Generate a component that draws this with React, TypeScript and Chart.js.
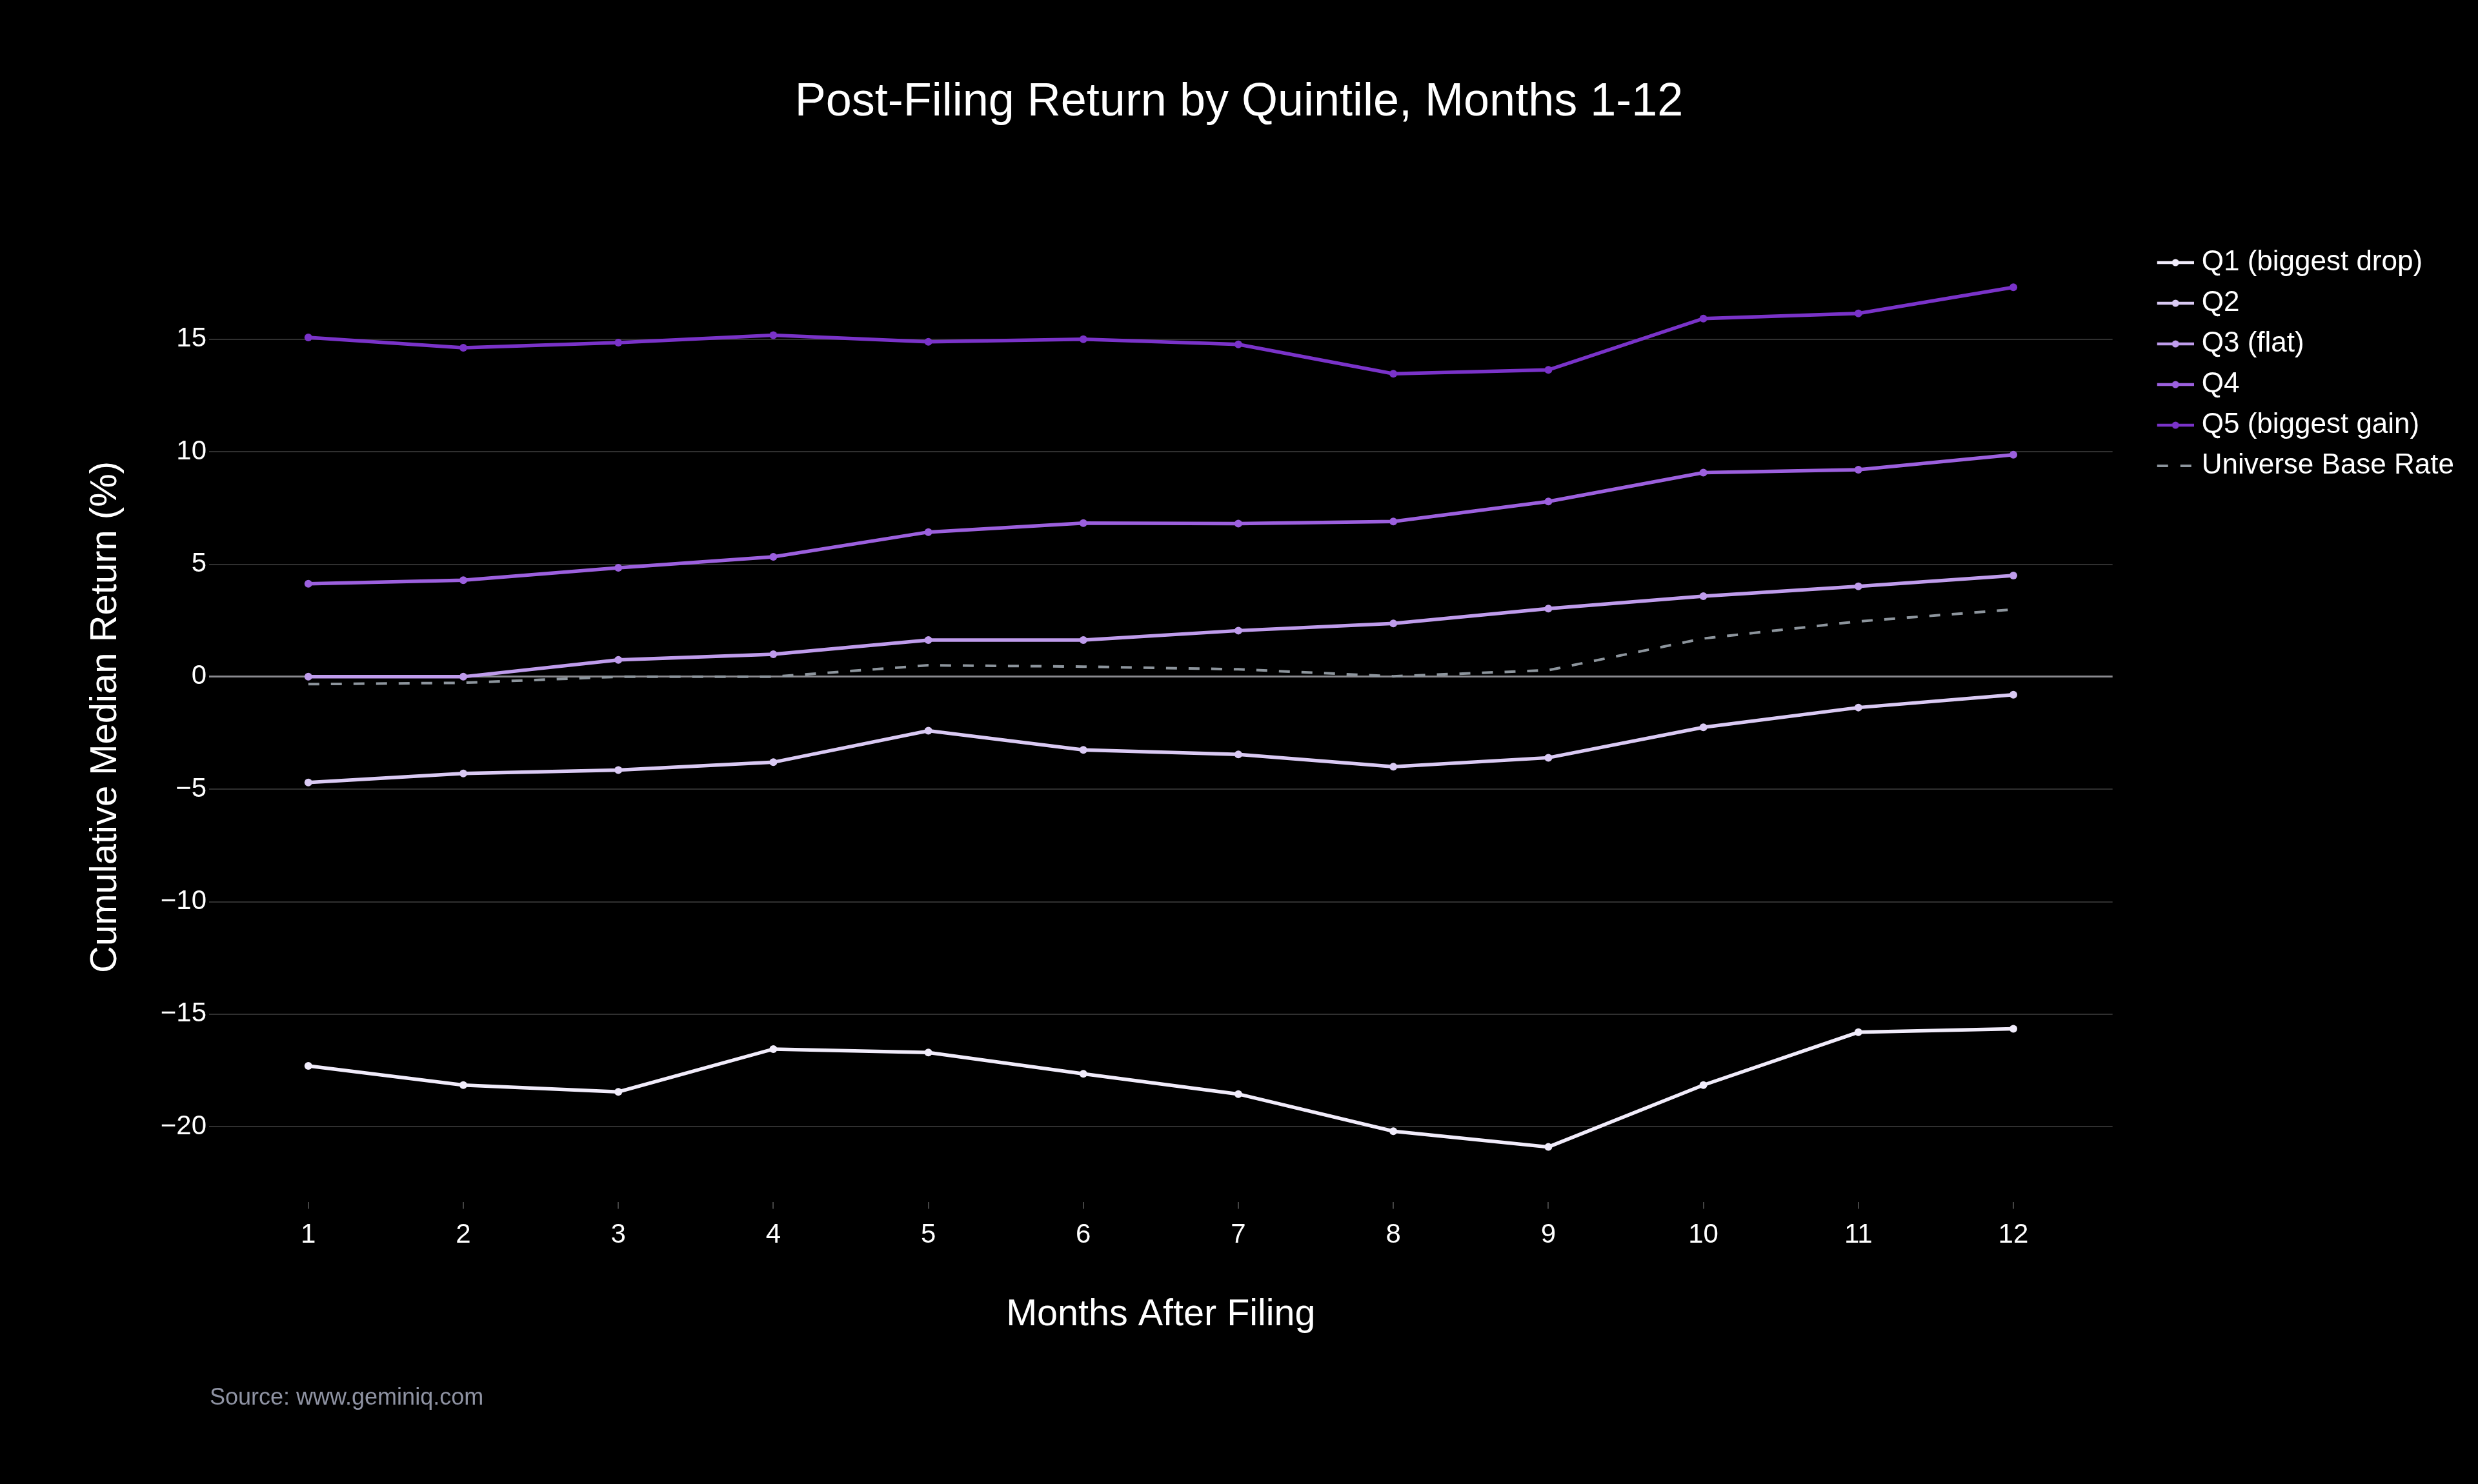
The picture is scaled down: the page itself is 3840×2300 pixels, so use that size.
import React, { useEffect, useRef } from "react";
import { Chart, registerables } from "chart.js";

Chart.register(...registerables);

const months = [1, 2, 3, 4, 5, 6, 7, 8, 9, 10, 11, 12];
const yTickValues = [-20, -15, -10, -5, 0, 5, 10, 15];

const q1 = [-17.3, -18.15, -18.45, -16.55, -16.7, -17.65, -18.55, -20.2, -20.9, -18.15, -15.8, -15.65];
const q2 = [-4.7, -4.3, -4.15, -3.8, -2.4, -3.25, -3.45, -4.0, -3.6, -2.25, -1.37, -0.8];
const q3 = [0.0, 0.0, 0.75, 1.0, 1.63, 1.63, 2.05, 2.37, 3.03, 3.58, 4.02, 4.5];
const q4 = [4.13, 4.29, 4.84, 5.33, 6.43, 6.83, 6.81, 6.9, 7.79, 9.07, 9.2, 9.87];
const q5 = [15.08, 14.62, 14.85, 15.18, 14.89, 15.0, 14.77, 13.47, 13.64, 15.92, 16.15, 17.31];
const baseRate = [-0.33, -0.27, 0.0, 0.0, 0.51, 0.45, 0.33, 0.02, 0.29, 1.7, 2.46, 2.99];

const seriesLabels = ["Q1 (biggest drop)", "Q2", "Q3 (flat)", "Q4", "Q5 (biggest gain)", "Universe Base Rate"];
const seriesColors = ["#f1ecfb", "#dacaf4", "#bf9cec", "#9c60de", "#7a33c9", "#8d959d"];

const FONT = '"Liberation Sans", Arial, Helvetica, sans-serif';

function makeIcon(color: string, dashed: boolean): HTMLCanvasElement {
  const c = document.createElement("canvas");
  c.width = 117;
  c.height = 14;
  const g = c.getContext("2d")!;
  g.strokeStyle = color;
  g.fillStyle = color;
  if (dashed) {
    g.lineWidth = 4;
    g.beginPath();
    g.moveTo(60, 7);
    g.lineTo(77, 7);
    g.moveTo(96, 7);
    g.lineTo(113, 7);
    g.stroke();
  } else {
    g.lineWidth = 4.5;
    g.beginPath();
    g.moveTo(60, 7);
    g.lineTo(117, 7);
    g.stroke();
    g.beginPath();
    g.arc(88.5, 7, 5.5, 0, Math.PI * 2);
    g.fill();
  }
  return c;
}

export default function App() {
  const ref = useRef<HTMLCanvasElement | null>(null);

  useEffect(() => {
    if (!ref.current) return;
    const series = [q1, q2, q3, q4, q5, baseRate];
    const icons = seriesColors.map((c, i) => makeIcon(c, i === 5));

    const datasets = series.map((arr, i) => {
      const dashed = i === 5;
      return {
        label: seriesLabels[i],
        data: months.map((m, j) => ({ x: m, y: arr[j] })),
        borderColor: seriesColors[i],
        backgroundColor: seriesColors[i],
        borderWidth: dashed ? 4 : 5.5,
        borderDash: dashed ? [17, 18] : [],
        pointRadius: dashed ? 0 : 6,
        pointBorderWidth: 0,
        pointBackgroundColor: seriesColors[i],
        tension: 0,
        fill: false,
      };
    });

    const sourcePlugin = {
      id: "sourceNote",
      afterDraw(chart: any) {
        const ctx = chart.ctx;
        ctx.save();
        ctx.font = `36px ${FONT}`;
        ctx.fillStyle = "#8f93a3";
        ctx.textBaseline = "middle";
        ctx.textAlign = "left";
        ctx.fillText("Source: www.geminiq.com", 325, 2167);
        ctx.restore();
      },
    };

    const chart = new Chart(ref.current, {
      type: "line",
      data: { datasets: datasets as any },
      plugins: [sourcePlugin],
      options: {
        responsive: false,
        animation: false,
        devicePixelRatio: 1,
        layout: { padding: { top: 0, left: 27, right: 27, bottom: 227.8 } },
        plugins: {
          tooltip: { enabled: false },
          title: {
            display: true,
            text: "Post-Filing Return by Quintile, Months 1-12",
            color: "#ffffff",
            font: { family: FONT, size: 72, weight: "normal", lineHeight: 1.2 },
            padding: { top: 116, bottom: 157.1 },
          },
          legend: {
            display: true,
            position: "right",
            align: "start",
            fullSize: false,
            title: {
              display: true,
              text: "",
              padding: 0,
              font: { family: FONT, size: 6.5, lineHeight: 1 },
            },
            labels: {
              color: "#ffffff",
              font: { family: FONT, size: 44 },
              usePointStyle: true,
              pointStyleWidth: 97,
              padding: 19,
              generateLabels: (ch: any) =>
                ch.data.datasets.map((ds: any, i: number) => ({
                  text: ds.label,
                  pointStyle: icons[i],
                  fillStyle: "rgba(0,0,0,0)",
                  strokeStyle: "rgba(0,0,0,0)",
                  lineWidth: 0,
                  hidden: false,
                  datasetIndex: i,
                  fontColor: "#ffffff",
                })),
            },
          },
        },
        scales: {
          x: {
            type: "linear",
            min: 0.36,
            max: 12.64,
            afterBuildTicks: (axis: any) => {
              axis.ticks = months.map((v) => ({ value: v }));
            },
            grid: {
              drawOnChartArea: false,
              drawTicks: true,
              tickLength: 10,
              color: "#444444",
              lineWidth: 2,
            },
            border: { display: false },
            ticks: {
              color: "#ffffff",
              font: { family: FONT, size: 42 },
              padding: 16,
              maxRotation: 0,
              autoSkip: false,
              callback: (v: any) => String(v),
            },
            title: {
              display: true,
              text: "Months After Filing",
              color: "#ffffff",
              font: { family: FONT, size: 57.5, lineHeight: 1.2 },
              padding: { top: 47.4, bottom: 0 },
            },
          },
          y: {
            type: "linear",
            min: -23.36,
            max: 19.77,
            afterBuildTicks: (axis: any) => {
              axis.ticks = yTickValues.map((v) => ({ value: v }));
            },
            grid: {
              drawTicks: false,
              color: (c: any) => (c.tick && c.tick.value === 0 ? "#8a8a8f" : "#303030"),
              lineWidth: (c: any) => (c.tick && c.tick.value === 0 ? 3 : 2),
            },
            border: { display: false },
            ticks: {
              color: "#ffffff",
              font: { family: FONT, size: 42 },
              padding: 4,
              callback: (v: any) => String(v).replace("-", "\u2212"),
            },
            title: {
              display: true,
              text: "Cumulative Median Return (%)",
              color: "#ffffff",
              font: { family: FONT, size: 58, lineHeight: 1.2 },
              padding: { top: 102.2, bottom: 46 },
            },
          },
        },
      } as any,
    });

    return () => chart.destroy();
  }, []);

  return (
    <div
      style={{
        position: "fixed",
        left: 0,
        top: 0,
        width: 3840,
        height: 2300,
        background: "#000000",
      }}
    >
      <canvas ref={ref} width={3840} height={2300} style={{ width: 3840, height: 2300, display: "block" }} />
    </div>
  );
}
